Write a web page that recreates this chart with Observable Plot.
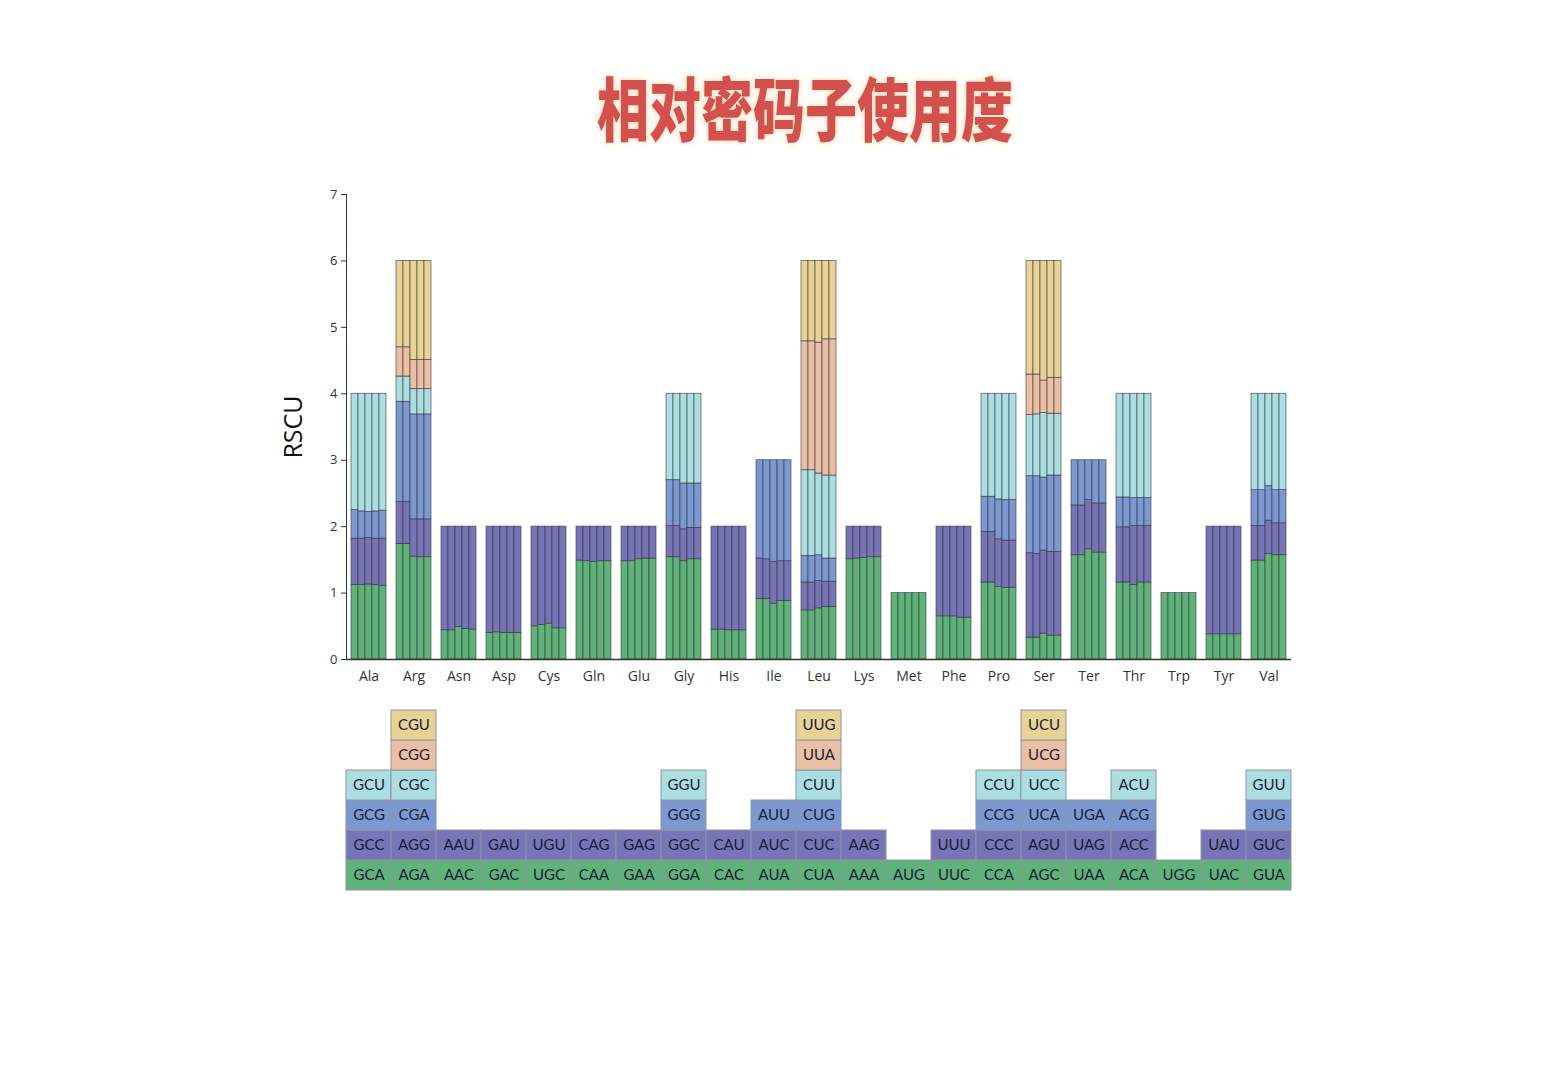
<!DOCTYPE html>
<html>
<head>
<meta charset="utf-8">
<script src="https://cdn.jsdelivr.net/npm/d3@7"></script>
<script src="https://cdn.jsdelivr.net/npm/@observablehq/plot@0.6"></script>
<style>
  html, body { margin: 0; padding: 0; background: #ffffff; }
  #page { position: relative; width: 1568px; height: 1080px; overflow: hidden; background: #fff; }
  #title {
    position: absolute; left: 0; width: 1568px; top: 72px; text-align: center;
    font-family: "Noto Sans CJK SC", sans-serif; font-weight: 900; font-size: 52px;
    color: #d4504f; line-height: 1;
  }
  #title span {
    display: inline-block; transform: scaleY(1.34); transform-origin: center top;
    margin-left: 42px;
    text-shadow: 0 0 2px #fbe4c4, 0 0 5px #fbe4c4, 0 0 8px #fdf0dc;
  }
  #bars { position: absolute; left: 0; top: 170px; }
  #table { position: absolute; left: 0; top: 700px; }
  #bars g[aria-label="y-axis label"] text { font-size: 25px; fill: #111; }
  #bars g[aria-label="fx-axis tick label"] text { font-size: 14px; fill: #333; }
  #bars g[aria-label="y-axis tick label"] text { font-size: 13px; fill: #333; }
</style>
</head>
<body>
<div id="page">
  <div id="title"><span>相对密码子使用度</span></div>
  <div id="bars"></div>
  <div id="table"></div>
</div>
<script>
// ---- data -------------------------------------------------------------
const aminoAcids = ["Ala","Arg","Asn","Asp","Cys","Gln","Glu","Gly","His","Ile","Leu","Lys","Met","Phe","Pro","Ser","Ter","Thr","Trp","Tyr","Val"];
const species = [0, 1, 2, 3, 4];
const layerColors = ["#5fb378", "#7775b6", "#7c98d0", "#aadee1", "#eabfa3", "#e8d395"];

// each entry: [codon, RSCU for the 5 stacked sub-bars]; stacked bottom -> top
const Ala = [["GCA",[1.12,1.12,1.13,1.12,1.11]],["GCC",[0.70,0.70,0.70,0.70,0.71]],["GCG",[0.43,0.41,0.39,0.41,0.42]],["GCU",[1.75,1.77,1.78,1.77,1.76]]];
const Arg = [["AGA",[1.74,1.74,1.55,1.54,1.54]],["AGG",[0.63,0.63,0.56,0.57,0.57]],["CGA",[1.51,1.51,1.58,1.58,1.58]],["CGC",[0.38,0.38,0.38,0.38,0.38]],["CGG",[0.44,0.44,0.44,0.44,0.44]],["CGU",[1.30,1.30,1.49,1.49,1.49]]];
const Asn = [["AAC",[0.44,0.44,0.49,0.46,0.45]],["AAU",[1.56,1.56,1.51,1.54,1.55]]];
const Asp = [["GAC",[0.40,0.41,0.40,0.40,0.40]],["GAU",[1.60,1.59,1.60,1.60,1.60]]];
const Cys = [["UGC",[0.50,0.52,0.54,0.47,0.47]],["UGU",[1.50,1.48,1.46,1.53,1.53]]];
const Gln = [["CAA",[1.49,1.48,1.47,1.48,1.48]],["CAG",[0.51,0.52,0.53,0.52,0.52]]];
const Glu = [["GAA",[1.48,1.48,1.51,1.52,1.52]],["GAG",[0.52,0.52,0.49,0.48,0.48]]];
const Gly = [["GGA",[1.54,1.54,1.48,1.51,1.51]],["GGC",[0.47,0.47,0.48,0.47,0.47]],["GGG",[0.69,0.69,0.69,0.67,0.67]],["GGU",[1.30,1.30,1.35,1.35,1.35]]];
const His = [["CAC",[0.45,0.45,0.44,0.44,0.44]],["CAU",[1.55,1.55,1.56,1.56,1.56]]];
const Ile = [["AUA",[0.91,0.91,0.84,0.88,0.88]],["AUC",[0.61,0.60,0.63,0.60,0.60]],["AUU",[1.48,1.49,1.53,1.52,1.52]]];
const Leu = [["CUA",[0.74,0.74,0.77,0.79,0.79]],["CUC",[0.42,0.42,0.41,0.38,0.38]],["CUG",[0.40,0.40,0.39,0.35,0.35]],["CUU",[1.29,1.29,1.23,1.25,1.25]],["UUA",[1.94,1.94,1.97,2.05,2.05]],["UUG",[1.21,1.21,1.23,1.18,1.18]]];
const Lys = [["AAA",[1.51,1.52,1.53,1.54,1.54]],["AAG",[0.49,0.48,0.47,0.46,0.46]]];
const Met = [["AUG",[1,1,1,1,1]]];
const Phe = [["UUC",[0.65,0.65,0.65,0.63,0.63]],["UUU",[1.35,1.35,1.35,1.37,1.37]]];
const Pro = [["CCA",[1.16,1.16,1.09,1.08,1.08]],["CCC",[0.76,0.76,0.72,0.71,0.71]],["CCG",[0.53,0.53,0.60,0.61,0.61]],["CCU",[1.55,1.55,1.59,1.60,1.60]]];
const Ser = [["AGC",[0.33,0.33,0.39,0.36,0.36]],["AGU",[1.27,1.26,1.25,1.26,1.26]],["UCA",[1.16,1.17,1.10,1.15,1.15]],["UCC",[0.92,0.93,0.97,0.93,0.93]],["UCG",[0.61,0.60,0.49,0.54,0.54]],["UCU",[1.71,1.71,1.80,1.76,1.76]]];
const Ter = [["UAA",[1.57,1.57,1.66,1.61,1.61]],["UAG",[0.75,0.75,0.74,0.74,0.74]],["UGA",[0.68,0.68,0.60,0.65,0.65]]];
const Thr = [["ACA",[1.16,1.16,1.12,1.16,1.16]],["ACC",[0.83,0.83,0.89,0.85,0.85]],["ACG",[0.45,0.45,0.42,0.42,0.42]],["ACU",[1.56,1.56,1.57,1.57,1.57]]];
const Trp = [["UGG",[1,1,1,1,1]]];
const Tyr = [["UAC",[0.38,0.38,0.38,0.38,0.38]],["UAU",[1.62,1.62,1.62,1.62,1.62]]];
const Val = [["GUA",[1.49,1.49,1.59,1.57,1.57]],["GUC",[0.52,0.52,0.50,0.48,0.48]],["GUG",[0.54,0.54,0.52,0.50,0.50]],["GUU",[1.45,1.45,1.39,1.45,1.45]]];

const codonSets = [Ala,Arg,Asn,Asp,Cys,Gln,Glu,Gly,His,Ile,Leu,Lys,Met,Phe,Pro,Ser,Ter,Thr,Trp,Tyr,Val];
const yTicks = [0,1,2,3,4,5,6,7];

// ---- tables built from the arrays ---------------------------------------
const stackRows = [];
const tableRows = [];
aminoAcids.forEach((aa, i) => {
  codonSets[i].forEach(([codon, vals], layer) => {
    tableRows.push({aa, row: layer, layer, codon});
  });
  species.forEach(sp => {
    codonSets[i].forEach(([codon, vals], layer) => {
      stackRows.push({aa, sp, layer, codon, value: vals[sp]});
    });
  });
});

const colorScale = {type: "ordinal", domain: [0,1,2,3,4,5], range: layerColors};

const bars = Plot.plot({
  width: 1568, height: 530,
  marginLeft: 343, marginRight: 275, marginTop: 24, marginBottom: 41,
  style: {fontFamily: "'Open Sans', sans-serif", fontSize: "13px", color: "#333", background: "transparent", overflow: "visible"},
  fx: {domain: aminoAcids, padding: 0, label: null, tickSize: 0, tickPadding: 12},
  x: {domain: species, paddingInner: 0, paddingOuter: 0.52, axis: null},
  y: {domain: [0, 7], ticks: yTicks, tickFormat: "d", tickSize: 5, label: "RSCU", labelAnchor: "center", labelArrow: "none", labelOffset: 62, line: true},
  color: colorScale,
  marks: [
    Plot.barY(stackRows, {fx: "aa", x: "sp", y: "value", z: "layer", fill: "layer",
      stroke: "#2f2f3a", strokeWidth: 0.8, strokeOpacity: 0.7}),
    Plot.ruleY([0], {stroke: "#333", strokeWidth: 1.3})
  ]
});
document.getElementById("bars").appendChild(bars);

const table = Plot.plot({
  width: 1568, height: 200,
  marginLeft: 343, marginRight: 275, marginTop: 7, marginBottom: 8,
  style: {fontFamily: "Lato, 'Open Sans', sans-serif", background: "transparent"},
  fx: {domain: aminoAcids, padding: 0, axis: null},
  y: {domain: [5,4,3,2,1,0], padding: 0, axis: null},
  color: colorScale,
  marks: [
    Plot.cell(tableRows, {fx: "aa", y: "row", fill: "layer", stroke: "#8e93a8", strokeWidth: 1}),
    Plot.text(tableRows, {fx: "aa", y: "row", text: "codon", fontSize: 15, fill: "#1c1c38"})
  ]
});
document.getElementById("table").appendChild(table);
</script>
</body>
</html>
